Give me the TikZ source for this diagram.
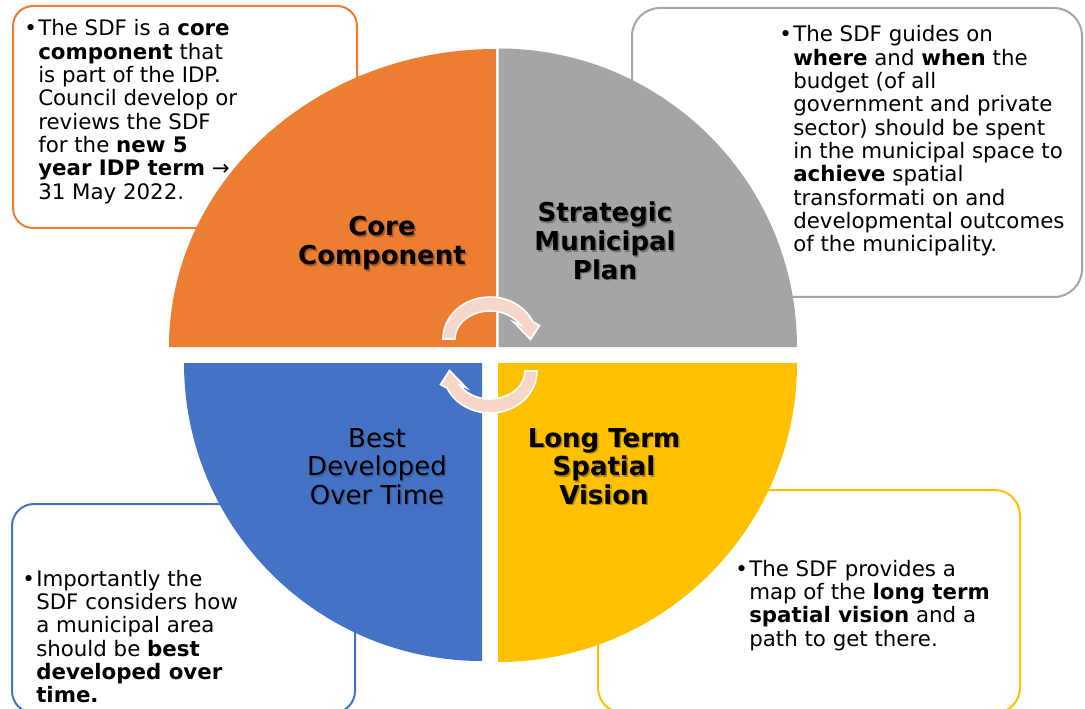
\documentclass[tikz,border=0pt]{standalone}
\usepackage{fontspec}
\setmainfont{DejaVu Sans}
\definecolor{corg}{HTML}{ED7D31}
\definecolor{cgry}{HTML}{A5A5A5}
\definecolor{cblu}{HTML}{4472C4}
\definecolor{cyel}{HTML}{FFC000}
\definecolor{carr}{HTML}{F7D6CA}
\newcommand{\leftlines}[1]{\vtop{\baselineskip=17.5pt\lineskiplimit=-20pt\halign{##\hfil\cr#1\crcr}}}
\newcommand{\midlines}[1]{\vtop{\baselineskip=21.5pt\lineskiplimit=-20pt\halign{\hfil##\hfil\cr#1\crcr}}}
\newcommand{\bul}{\llap{•\kern1pt}}
\tikzset{
  bx/.style={line width=1.5pt, fill=white},
  txt/.style={font=\fontsize{16}{17.5}\selectfont, inner sep=0pt, anchor=base west, text=black},
  lab/.style={font=\fontsize{19.5}{21.5}\selectfont, inner sep=0pt, anchor=base, text=black},
  labsh/.style={lab, text=black, opacity=0.3},
  arrowshape/.style={fill=carr, draw=white, line width=1.2pt, line join=miter}
}
\begin{document}
\begin{tikzpicture}[x=0.75pt,y=-0.75pt]
\clip (0,0) rectangle (1085,709);
\fill[white] (0,0) rectangle (1085,709);
% text boxes
\draw[bx, draw=corg, rounded corners=15pt] (13,6) rectangle (357,228);
\draw[bx, draw=cgry, rounded corners=21pt] (632,8) rectangle (1082,297);
\draw[bx, draw=cblu, rounded corners=16.5pt] (12,504) rectangle (355,713);
\draw[bx, draw=cyel, rounded corners=19pt] (598,490) rectangle (1020,713);
% box texts
\node[txt] (torg) at (38,36) {\leftlines{\bul The SDF is a \textbf{core}\cr
\textbf{component} that\cr
is part of the IDP.\cr
Council develop or\cr
reviews the SDF\cr
for the \textbf{new 5}\cr
\textbf{year IDP term} →\cr
31 May 2022.}};
\node[txt] (tgry) at (793,42) {\leftlines{\bul The SDF guides on\cr
\textbf{where} and \textbf{when} the\cr
budget (of all\cr
government and private\cr
sector) should be spent\cr
in the municipal space to\cr
\textbf{achieve} spatial\cr
transformati on and\cr
developmental outcomes\cr
of the municipality.}};
\node[txt] (tblu) at (36,586) {\leftlines{\bul Importantly the\cr
SDF considers how\cr
a municipal area\cr
should be \textbf{best}\cr
\textbf{developed over}\cr
\textbf{time.}}};
\node[txt] (tyel) at (749,576) {\leftlines{\bul The SDF provides a\cr
map of the \textbf{long term}\cr
\textbf{spatial vision} and a\cr
path to get there.}};
% quadrants
\fill[corg] (496,347) -- (169,347) arc[start angle=180, end angle=270, x radius=327, y radius=298] -- cycle;
\fill[cgry] (498.5,347) -- (797,347) arc[start angle=0, end angle=-90, radius=298.5] -- cycle;
\fill[cblu] (482,363) -- (184,363) arc[start angle=180, end angle=90, radius=298] -- cycle;
\fill[cyel] (498,363) -- (797,363) arc[start angle=0, end angle=90, radius=299] -- cycle;
% labels
\node[labsh] (l1s) at (383.5,237.5) {\midlines{\textbf{Core}\cr\textbf{Component}}};
\node[lab] (l1) at (382,236) {\midlines{\textbf{Core}\cr\textbf{Component}}};
\node[labsh] (l2s) at (606.5,223.5) {\midlines{\textbf{Strategic}\cr\textbf{Municipal}\cr\textbf{Plan}}};
\node[lab] (l2) at (605,222) {\midlines{\textbf{Strategic}\cr\textbf{Municipal}\cr\textbf{Plan}}};
\node[labsh, opacity=0.15] (l3s) at (378.5,448.5) {\midlines{Best\cr Developed\cr Over Time}};
\node[lab] (l3) at (377,447) {\midlines{Best\cr Developed\cr Over Time}};
\node[labsh] (l4s) at (605.5,448.5) {\midlines{\textbf{Long Term}\cr\textbf{Spatial}\cr\textbf{Vision}}};
\node[lab] (l4) at (604,447) {\midlines{\textbf{Long Term}\cr\textbf{Spatial}\cr\textbf{Vision}}};
% cycle arrows
\path[arrowshape] (443,339) arc[start angle=180, end angle=336, x radius=47, y radius=42]
  -- (539.5,325.5) -- (530.5,339.5) -- (513.5,322) -- (520.3,325)
  arc[start angle=330, end angle=180, x radius=35, y radius=28] -- cycle;
\begin{scope}[rotate around={180:(490,355)}]
\path[arrowshape] (443,339) arc[start angle=180, end angle=336, x radius=47, y radius=42]
  -- (539.5,325.5) -- (530.5,339.5) -- (513.5,322) -- (520.3,325)
  arc[start angle=330, end angle=180, x radius=35, y radius=28] -- cycle;
\end{scope}
\end{tikzpicture}
\end{document}
